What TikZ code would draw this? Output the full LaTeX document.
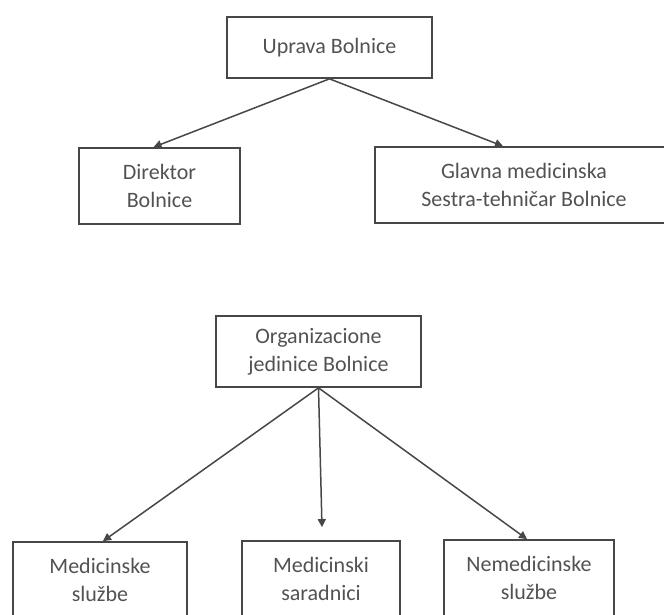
\documentclass[tikz,border=0pt]{standalone}
\usepackage{fontspec}
\setmainfont{Carlito}
\usetikzlibrary{arrows.meta}

\begin{document}
\begin{tikzpicture}[x=1pt,y=1pt,
    unit/.style={draw=black!72,line width=1.7pt,rectangle,align=center,
      text=black!68,inner sep=0pt,font=\fontsize{22}{28}\selectfont},
    link/.style={draw=black!72,line width=1.5pt,-{Triangle[length=8pt,width=8pt]}}]
          \clip (0,0) rectangle (664,614);
          \node[unit,minimum width=205pt,minimum height=61pt] (uprava) at (329.5,566.5) {Uprava Bolnice};
          \node[unit,minimum width=161pt,minimum height=76pt] (direktor) at (159.5,428) {Direktor\\Bolnice};
          \node[unit,minimum width=298pt,minimum height=76pt] (sestra) at (524,429) {Glavna medicinska\\Sestra-tehničar Bolnice};
          \node[unit,minimum width=205pt,minimum height=71pt] (jedinice) at (318.5,262.5) {Organizacione\\jedinice Bolnice};
          \node[unit,minimum width=174pt,minimum height=76pt] (medsl) at (100,34) {Medicinske\\službe};
          \node[unit,minimum width=158pt,minimum height=76pt] (saradnici) at (321,35) {Medicinski\\saradnici};
          \node[unit,minimum width=170pt,minimum height=76pt] (nemedsl) at (529,36) {Nemedicinske\\službe};
          \draw[link] (uprava.south) -- ([xshift=-6pt]direktor.north);
          \draw[link] (uprava.south) -- ([xshift=-21pt]sestra.north);
          \draw[link] (jedinice.south) -- ([xshift=3pt]medsl.north);
          \draw[link] (jedinice.south) -- ([xshift=1pt,yshift=13pt]saradnici.north);
          \draw[link] (jedinice.south) -- ([xshift=-2pt]nemedsl.north);
        \end{tikzpicture}
\end{document}
